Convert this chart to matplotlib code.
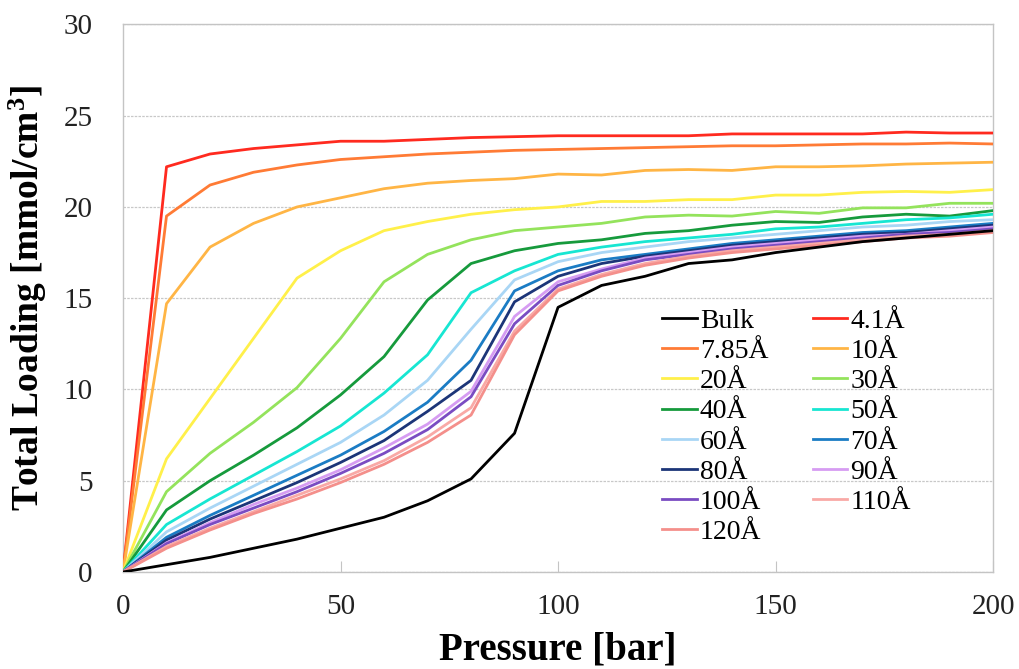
import matplotlib
matplotlib.use('Agg')
import matplotlib.pyplot as plt

plt.rcParams['font.family'] = ['Liberation Serif', 'DejaVu Serif']
plt.rcParams['mathtext.fontset'] = 'custom'
plt.rcParams['mathtext.rm'] = 'Liberation Serif'
plt.rcParams['mathtext.bf'] = 'Liberation Serif:bold'

pressure = [0, 10, 20, 30, 40, 50, 60, 70, 80, 90, 100,
            110, 120, 130, 140, 150, 160, 170, 180, 190, 200]

bulk = [0, 0.4, 0.8, 1.3, 1.8, 2.4, 3.0, 3.9, 5.1, 7.6, 14.5,
        15.7, 16.2, 16.9, 17.1, 17.5, 17.8, 18.1, 18.3, 18.5, 18.7]
pore_4_1 = [0, 22.2, 22.9, 23.2, 23.4, 23.6, 23.6, 23.7, 23.8, 23.85, 23.9,
            23.9, 23.9, 23.9, 24.0, 24.0, 24.0, 24.0, 24.1, 24.05, 24.05]
pore_7_85 = [0, 19.5, 21.2, 21.9, 22.3, 22.6, 22.75, 22.9, 23.0, 23.1, 23.15,
             23.2, 23.25, 23.3, 23.35, 23.35, 23.4, 23.45, 23.45, 23.5, 23.45]
pore_10 = [0, 14.7, 17.8, 19.1, 20.0, 20.5, 21.0, 21.3, 21.45, 21.55, 21.8,
           21.75, 22.0, 22.05, 22.0, 22.2, 22.2, 22.25, 22.35, 22.4, 22.45]
pore_20 = [0, 6.2, 9.5, 12.8, 16.1, 17.6, 18.7, 19.2, 19.6, 19.85, 20.0,
           20.3, 20.3, 20.4, 20.4, 20.65, 20.65, 20.8, 20.85, 20.8, 20.95]
pore_30 = [0, 4.4, 6.5, 8.2, 10.1, 12.8, 15.9, 17.4, 18.2, 18.7, 18.9,
           19.1, 19.45, 19.55, 19.5, 19.75, 19.65, 19.95, 19.95, 20.2, 20.2]
pore_40 = [0, 3.4, 5.0, 6.4, 7.9, 9.7, 11.8, 14.9, 16.9, 17.6, 18.0,
           18.2, 18.55, 18.7, 19.0, 19.2, 19.15, 19.45, 19.6, 19.5, 19.8]
pore_50 = [0, 2.6, 4.0, 5.3, 6.6, 8.0, 9.8, 11.9, 15.3, 16.5, 17.4,
           17.8, 18.1, 18.3, 18.5, 18.8, 18.9, 19.1, 19.3, 19.4, 19.6]
pore_60 = [0, 2.2, 3.5, 4.7, 5.9, 7.1, 8.6, 10.5, 13.3, 16.0, 17.0,
           17.5, 17.8, 18.1, 18.3, 18.5, 18.7, 18.9, 19.0, 19.2, 19.3]
pore_70 = [0, 1.9, 3.1, 4.2, 5.3, 6.4, 7.7, 9.3, 11.6, 15.4, 16.5,
           17.1, 17.4, 17.7, 18.0, 18.2, 18.4, 18.6, 18.7, 18.9, 19.1]
pore_80 = [0, 1.75, 2.9, 3.9, 4.9, 6.0, 7.2, 8.8, 10.5, 14.8, 16.2,
           16.9, 17.3, 17.6, 17.9, 18.1, 18.3, 18.5, 18.6, 18.8, 19.0]
pore_90 = [0, 1.6, 2.7, 3.7, 4.6, 5.6, 6.8, 8.1, 9.9, 14.0, 15.9,
           16.6, 17.2, 17.5, 17.8, 18.0, 18.2, 18.4, 18.5, 18.7, 18.9]
pore_100 = [0, 1.55, 2.6, 3.5, 4.4, 5.4, 6.5, 7.8, 9.6, 13.6, 15.7,
            16.5, 17.1, 17.4, 17.7, 17.9, 18.1, 18.3, 18.5, 18.6, 18.8]
pore_110 = [0, 1.4, 2.4, 3.3, 4.2, 5.1, 6.1, 7.4, 9.0, 13.2, 15.5,
            16.3, 16.9, 17.3, 17.6, 17.8, 18.0, 18.2, 18.4, 18.5, 18.7]
pore_120 = [0, 1.3, 2.3, 3.2, 4.0, 4.9, 5.9, 7.1, 8.6, 13.0, 15.4,
            16.2, 16.8, 17.2, 17.5, 17.7, 17.9, 18.1, 18.3, 18.4, 18.6]

labels = ['Bulk', '4.1Å', '7.85Å', '10Å', '20Å', '30Å', '40Å', '50Å',
          '60Å', '70Å', '80Å', '90Å', '100Å', '110Å', '120Å']
series = [bulk, pore_4_1, pore_7_85, pore_10, pore_20, pore_30, pore_40, pore_50,
          pore_60, pore_70, pore_80, pore_90, pore_100, pore_110, pore_120]
colors = ['#000000', '#ff2a1f', '#ff7b35', '#ffb545', '#fff04a', '#94e35c',
          '#169a3c', '#17e6d2', '#a9d6f5', '#1b7cc4', '#1c3578', '#d69cf2',
          '#7a4cc2', '#f9a9a6', '#f48f8b']

fig = plt.figure(figsize=(10.2, 6.69), dpi=100)
ax = fig.add_axes([0.1206, 0.145, 0.853, 0.8185])

handles = []
# draw the pores first, bulk last so it sits on top
order = list(range(1, len(series))) + [0]
for i in order:
    h, = ax.plot(pressure, series[i], color=colors[i], lw=2.0,
                 label=labels[i], zorder=3 if i else 4)
    handles.append((i, h))
handles = [h for i, h in sorted(handles)]

ax.set_xlim(0, 200)
ax.set_ylim(0, 30)
ax.set_xticks([0, 50, 100, 150, 200])
ax.set_yticks([0, 5, 10, 15, 20, 25, 30])
ax.grid(axis='y', color='#c8c8c8', linestyle=(0, (2, 1)), lw=0.9, zorder=0)
for s in ax.spines.values():
    s.set_color('#c4c4c4')
    s.set_linewidth(1.0)
ax.tick_params(axis='x', direction='in', length=8, color='#c4c4c4',
               labelsize=21, pad=16)
ax.tick_params(axis='y', length=0, labelsize=21, pad=22)
for t in ax.get_xticklabels() + ax.get_yticklabels():
    t.set_color('#222222')

ax.set_xlabel('Pressure [bar]', fontsize=28, fontweight='bold')
ax.xaxis.set_label_coords(0.5, -0.108)
ax.set_ylabel('Total Loading [mmol/cm$\\mathbf{^3}$]', fontsize=27,
              fontweight='bold', labelpad=10)

# legend reads row by row: Bulk | 4.1Å, 7.85Å | 10Å, ...
left_col = handles[0::2]
right_col = handles[1::2]
leg_handles = left_col + right_col
ax.legend(handles=leg_handles, labels=[h.get_label() for h in leg_handles],
          ncol=2, loc='upper left', bbox_to_anchor=(0.591, 0.527),
          frameon=False, fontsize=20, handlelength=1.25, handletextpad=0.1,
          columnspacing=1.6, labelspacing=0.17)

fig.savefig('out.png', dpi=100)
